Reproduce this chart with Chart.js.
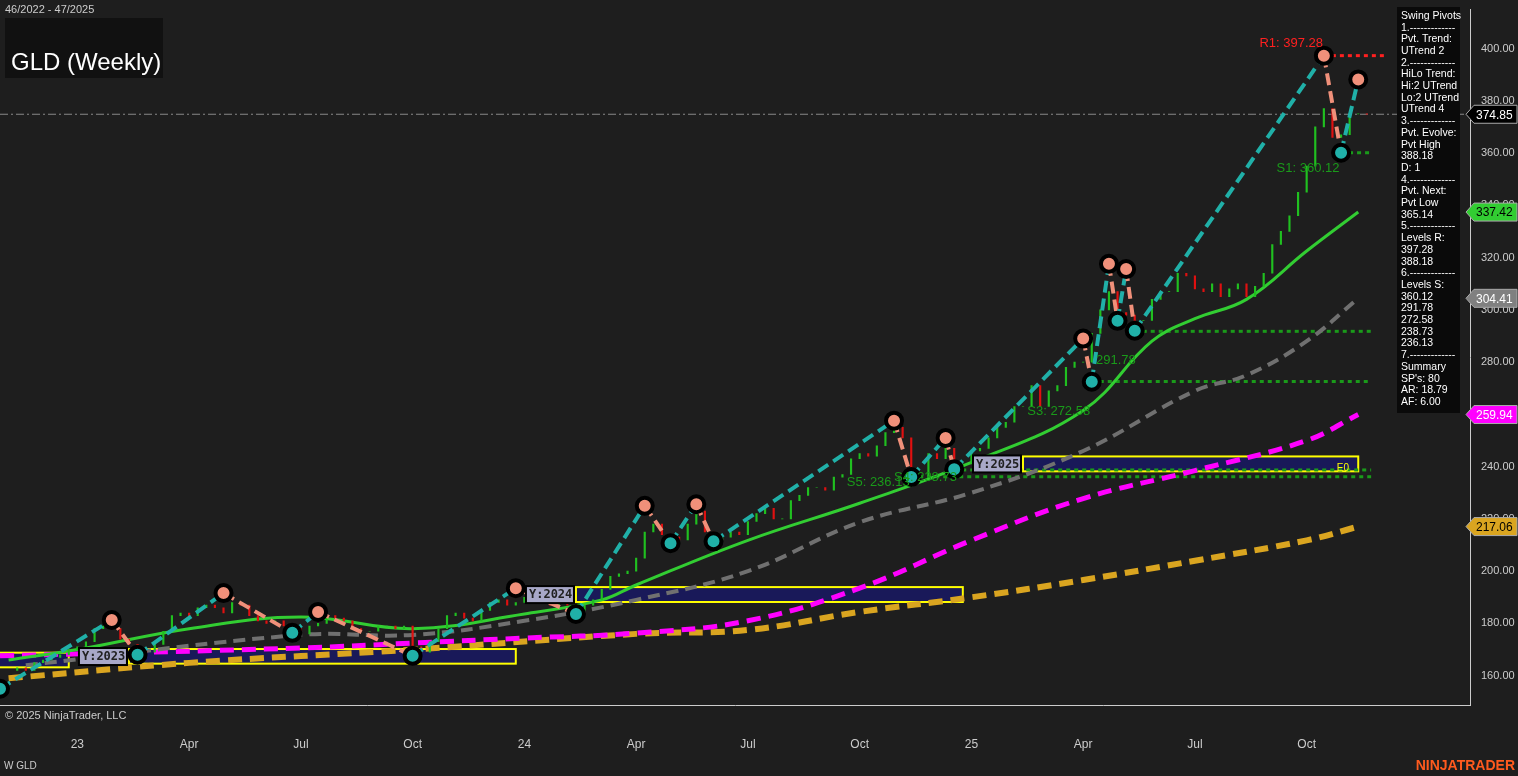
<!DOCTYPE html>
<html>
<head>
<meta charset="utf-8">
<script src="https://cdn.jsdelivr.net/npm/chart.js@4.4.0/dist/chart.umd.min.js"></script>
<style>
  html, body { margin: 0; padding: 0; background: #1e1e1e; }
  #wrap { position: relative; width: 1518px; height: 776px; }
</style>
</head>
<body>
<div id="wrap"><canvas id="chart" width="1518" height="776"></canvas></div>
<script>
// weekly closes, index 0 = week 46/2022
const closes = [
  163, 162, 165, 166, 167, 168, 170,
  171, 173, 178, 179, 178, 174, 172, 170, 169, 172, 177, 183, 184, 183,
  186, 187, 186, 184, 188, 187, 183, 181, 180, 181, 179, 178, 176,
  179, 180, 183, 182, 181, 178, 177, 177, 179, 179, 178, 179, 171,
  169, 173, 178, 183, 184, 182, 181, 185, 188, 189, 187, 188, 190,
  189, 188, 187, 188, 187, 185, 187, 189, 193, 198, 199, 200, 205,
  215, 218, 214, 213, 212, 218, 223, 215, 212, 213, 215, 214,
  219, 222, 224, 220, 220, 227, 229, 232, 232, 231, 236, 237, 243,
  245, 244, 248, 253, 255, 251, 236, 236, 245, 243, 247, 240, 241,
  246, 247, 251, 255, 257, 263, 263, 271, 263, 269, 271, 278, 280,
  280, 291, 300, 307, 299, 298, 296, 296, 304, 307, 307, 314, 313,
  308, 307, 310, 305, 308, 310, 305, 309, 314, 325, 330, 336, 345,
  355, 370, 377, 366, 367, 375, 375, 374.85
];

// moving averages: [week index, value]
const maFast = [[-1,166],[7,170],[20,178],[33,182.5],[46,178],[59,183.6],[68,189],[72,194.7],[85,211.8],[98,226],[111,241.6],[124,261.5],[132,288],[137,296.6],[143,304],[150,322.5],[156,337.42]];
const maMid = [[1,164],[33,175.6],[46,175.6],[59,181],[72,189],[85,200],[98,218.7],[111,230],[124,246],[137,269],[143,275],[150,288],[156,304.41]];
const maSlow = [[-2,167.6],[33,170.6],[46,172.5],[59,174.4],[72,176.3],[85,181],[98,193.5],[111,211.8],[124,227.8],[137,238.5],[150,250],[156,259.94]];
const maLong = [[-1,159],[20,164.9],[46,170],[72,176],[85,177.5],[98,184.4],[111,190],[124,196.6],[137,204],[150,211.8],[156,217.06]];

// swing pivots: [week index, price, 'H'|'L']
const pivots = [[-2,155,'L'],[11,181.3,'H'],[14,168,'L'],[24,191.6,'H'],[32,176.4,'L'],[35,184.4,'H'],[46,167.6,'L'],[58,193.5,'H'],[65,183.6,'L'],[73,225,'H'],[76,210.7,'L'],[79,225.6,'H'],[81,211.4,'L'],[102,257.6,'H'],[104,236,'L'],[108,251,'H'],[109,239,'L'],[124,289,'H'],[125,272.5,'L'],[127,317.6,'H'],[128,295.8,'L'],[129,315.6,'H'],[130,292,'L'],[152,397.28,'H'],[154,360.12,'L'],[156,388.18,'H']];

// support / resistance levels: [from week, to week, price, colour]
const levels = [[152,159,397.28,'#ff2020'],[154,157.5,360.12,'#1a9a1a'],[130,157.5,291.78,'#1a9a1a'],[125,157.5,272.58,'#1a9a1a'],[109,157.5,238.73,'#1a9a1a'],[104,157.5,236.13,'#1a9a1a']];
const levelLabels = [['R1: 397.28',144.5,402,'#ff2020'],['S1: 360.12',146.5,354,'#1a9a1a'],['291.78',125.5,280.5,'#1a9a1a'],['S3: 272.58',117.5,261,'#1a9a1a'],['S4: 238.73',102,236,'#1a9a1a'],['S5: 236.13',96.5,234,'#1a9a1a']];

// yearly boxes: [label, from week, to week, top, bottom, label week]
const yearBoxes = [['',-3,6,168.8,163.2,null],['Y:2023',13,58,170.2,164.6,7.3],['Y:2024',65,110,193.9,188.2,59.3],['Y:2025',117,156,243.9,238.2,111.3]];

const tickWeeks = [7,20,33,46,59,72,85,98,111,124,137,150];
const tickLabels = ['23','Apr','Jul','Oct','24','Apr','Jul','Oct','25','Apr','Jul','Oct'];
const yTicks = [160,180,200,220,240,260,280,300,320,340,360,380,400];

const badges = [[374.85,'#000','#fff'],[337.42,'#32cd32','#000'],[304.41,'#808080','#fff'],[259.94,'#ff00ff','#fff'],[217.06,'#daa520','#000']];

const infoLines = ['Swing Pivots','1.-------------','Pvt. Trend:','UTrend 2','2.-------------','HiLo Trend:','Hi:2 UTrend','Lo:2 UTrend','UTrend 4','3.-------------','Pvt. Evolve:','Pvt High','388.18','D: 1','4.-------------','Pvt. Next:','Pvt Low','365.14','5.-------------','Levels R:','397.28','388.18','6.-------------','Levels S:','360.12','291.78','272.58','238.73','236.13','7.-------------','Summary',"SP's: 80",'AR: 18.79','AF: 6.00'];

const barData = closes.map((c, i) => ({ x: i, y: [i > 0 ? closes[i-1] : c - 1, c] }));
const barColors = closes.map((c, i) => (i > 0 && c < closes[i-1]) ? '#e01010' : '#20c020');
const toXY = arr => arr.map(p => ({ x: p[0], y: p[1] }));

const FONT = 'Arial, "Liberation Sans", sans-serif';

const overlay = {
  id: 'overlay',
  beforeDatasetsDraw(chart) {
    const ctx = chart.ctx, xs = chart.scales.x, ys = chart.scales.y;
    ctx.save();
    yearBoxes.forEach(b => {
      const x1 = xs.getPixelForValue(b[1]), x2 = xs.getPixelForValue(b[2]);
      const y1 = ys.getPixelForValue(b[3]), y2 = ys.getPixelForValue(b[4]);
      ctx.fillStyle = 'rgba(25,25,100,0.85)';
      ctx.fillRect(x1, y1, x2 - x1, y2 - y1);
      ctx.strokeStyle = '#ffff00'; ctx.lineWidth = 2;
      ctx.strokeRect(x1, y1, x2 - x1, y2 - y1);
    });
    // last price line
    const yl = ys.getPixelForValue(374.85);
    ctx.strokeStyle = '#888'; ctx.lineWidth = 1; ctx.setLineDash([8, 3, 2, 3]);
    ctx.beginPath(); ctx.moveTo(chart.chartArea.left, yl); ctx.lineTo(chart.chartArea.right, yl); ctx.stroke();
    levels.forEach(l => {
      const y = ys.getPixelForValue(l[2]);
      ctx.strokeStyle = l[3]; ctx.lineWidth = 3; ctx.setLineDash([4, 4]);
      ctx.beginPath(); ctx.moveTo(xs.getPixelForValue(l[0]), y); ctx.lineTo(xs.getPixelForValue(l[1]), y); ctx.stroke();
    });
    ctx.setLineDash([]);
    ctx.restore();
  },
  afterDraw(chart) {
    const ctx = chart.ctx, xs = chart.scales.x, ys = chart.scales.y, ca = chart.chartArea;
    ctx.save();
    ctx.font = '13px ' + FONT; ctx.textBaseline = 'middle'; ctx.textAlign = 'left';
    levelLabels.forEach(l => { ctx.fillStyle = l[3]; ctx.fillText(l[0], xs.getPixelForValue(l[1]), ys.getPixelForValue(l[2])); });
    ctx.font = 'bold 12px "DejaVu Sans Mono", monospace';
    yearBoxes.forEach(b => {
      if (!b[5]) return;
      const x = xs.getPixelForValue(b[5]), y = ys.getPixelForValue(b[3]);
      ctx.fillStyle = '#000'; ctx.fillRect(x - 2, y - 2, 50, 19);
      ctx.fillStyle = '#a8a8c8'; ctx.fillRect(x, y, 46, 15);
      ctx.fillStyle = '#222'; ctx.fillText(b[0], x + 2, y + 8);
    });
    ctx.font = '10px ' + FONT; ctx.fillStyle = '#ffff00';
    ctx.fillText('E0', xs.getPixelForValue(153.5), ys.getPixelForValue(239.5));
    ctx.font = '12px ' + FONT;
    badges.forEach(b => {
      const y = ys.getPixelForValue(b[0]), x = ca.right - 4;
      ctx.fillStyle = b[1]; ctx.strokeStyle = '#aaa'; ctx.lineWidth = 1;
      ctx.beginPath(); ctx.moveTo(x, y); ctx.lineTo(x + 8, y - 9); ctx.lineTo(1517, y - 9); ctx.lineTo(1517, y + 9); ctx.lineTo(x + 8, y + 9); ctx.closePath();
      ctx.fill(); ctx.stroke();
      ctx.fillStyle = b[2]; ctx.fillText(b[0].toFixed(2), x + 10, y + 1);
    });
    ctx.fillStyle = '#111'; ctx.fillRect(5, 18, 158, 60);
    ctx.fillStyle = '#fff'; ctx.font = '24px ' + FONT; ctx.fillText('GLD (Weekly)', 11, 63);
    ctx.fillStyle = '#ccc'; ctx.font = '11px ' + FONT; ctx.fillText('46/2022 - 47/2025', 5, 10);
    ctx.fillText('\u00a9 2025 NinjaTrader, LLC', 5, 716);
    ctx.font = '10px ' + FONT; ctx.fillText('W GLD', 4, 766);
    ctx.fillStyle = '#ff5a1e'; ctx.font = 'bold 14px ' + FONT; ctx.textAlign = 'right';
    ctx.fillText('NINJATRADER', 1515, 766);
    ctx.textAlign = 'left';
    ctx.fillStyle = '#0a0a0a'; ctx.fillRect(1397, 7, 63, 406);
    ctx.fillStyle = '#fff'; ctx.font = '10.5px ' + FONT;
    infoLines.forEach((t, i) => ctx.fillText(t, 1401, 16 + i * 11.7));
    ctx.restore();
  }
};

new Chart(document.getElementById('chart'), {
  type: 'bar',
  data: {
    datasets: [
      { type: 'line', data: toXY(maLong), borderColor: '#daa520', borderWidth: 6, borderDash: [14, 8], pointRadius: 0, tension: 0.4, order: 6 },
      { type: 'line', data: toXY(maSlow), borderColor: '#ff00ff', borderWidth: 5, borderDash: [14, 8], pointRadius: 0, tension: 0.4, order: 5 },
      { type: 'line', data: toXY(maMid), borderColor: '#707070', borderWidth: 4, borderDash: [12, 7], pointRadius: 0, tension: 0.4, order: 4 },
      { type: 'line', data: toXY(maFast), borderColor: '#32cd32', borderWidth: 3, pointRadius: 0, tension: 0.4, order: 3 },
      { type: 'bar', data: barData, backgroundColor: barColors, barThickness: 1.5, order: 2 },
      {
        type: 'line', data: pivots.map(p => ({ x: p[0], y: p[1] })), borderWidth: 4, borderDash: [12, 6],
        segment: { borderColor: c => c.p1.parsed.y < c.p0.parsed.y ? '#f0907a' : '#20b0a8' },
        pointRadius: 8, pointBorderWidth: 4, pointBorderColor: '#000',
        pointBackgroundColor: pivots.map(p => p[2] === 'H' ? '#f0907a' : '#20b0a8'), order: 1
      }
    ]
  },
  options: {
    responsive: false, animation: false,
    layout: { autoPadding: false, padding: { top: 0, right: 0, bottom: 0, left: 0 } },
    plugins: { legend: { display: false }, tooltip: { enabled: false } },
    scales: {
      x: {
        type: 'linear', min: -2, max: 169, offset: false,
        grid: { display: false, drawTicks: true },
        border: { color: '#ccc' },
        afterBuildTicks: s => { s.ticks = tickWeeks.map(v => ({ value: v })); },
        ticks: { color: '#ccc', font: { size: 12 }, padding: 24, autoSkip: false, maxRotation: 0,
                 callback: (v) => tickLabels[tickWeeks.indexOf(v)] }
      },
      y: {
        position: 'right', min: 148.55, max: 414.9,
        grid: { display: false },
        border: { color: '#ccc' },
        afterBuildTicks: s => { s.ticks = yTicks.map(v => ({ value: v })); },
        afterFit: s => { s.width = 48; },
        ticks: { color: '#ccc', font: { size: 11 }, callback: v => v.toFixed(2) }
      }
    }
  },
  plugins: [overlay]
});
</script>
</body>
</html>
